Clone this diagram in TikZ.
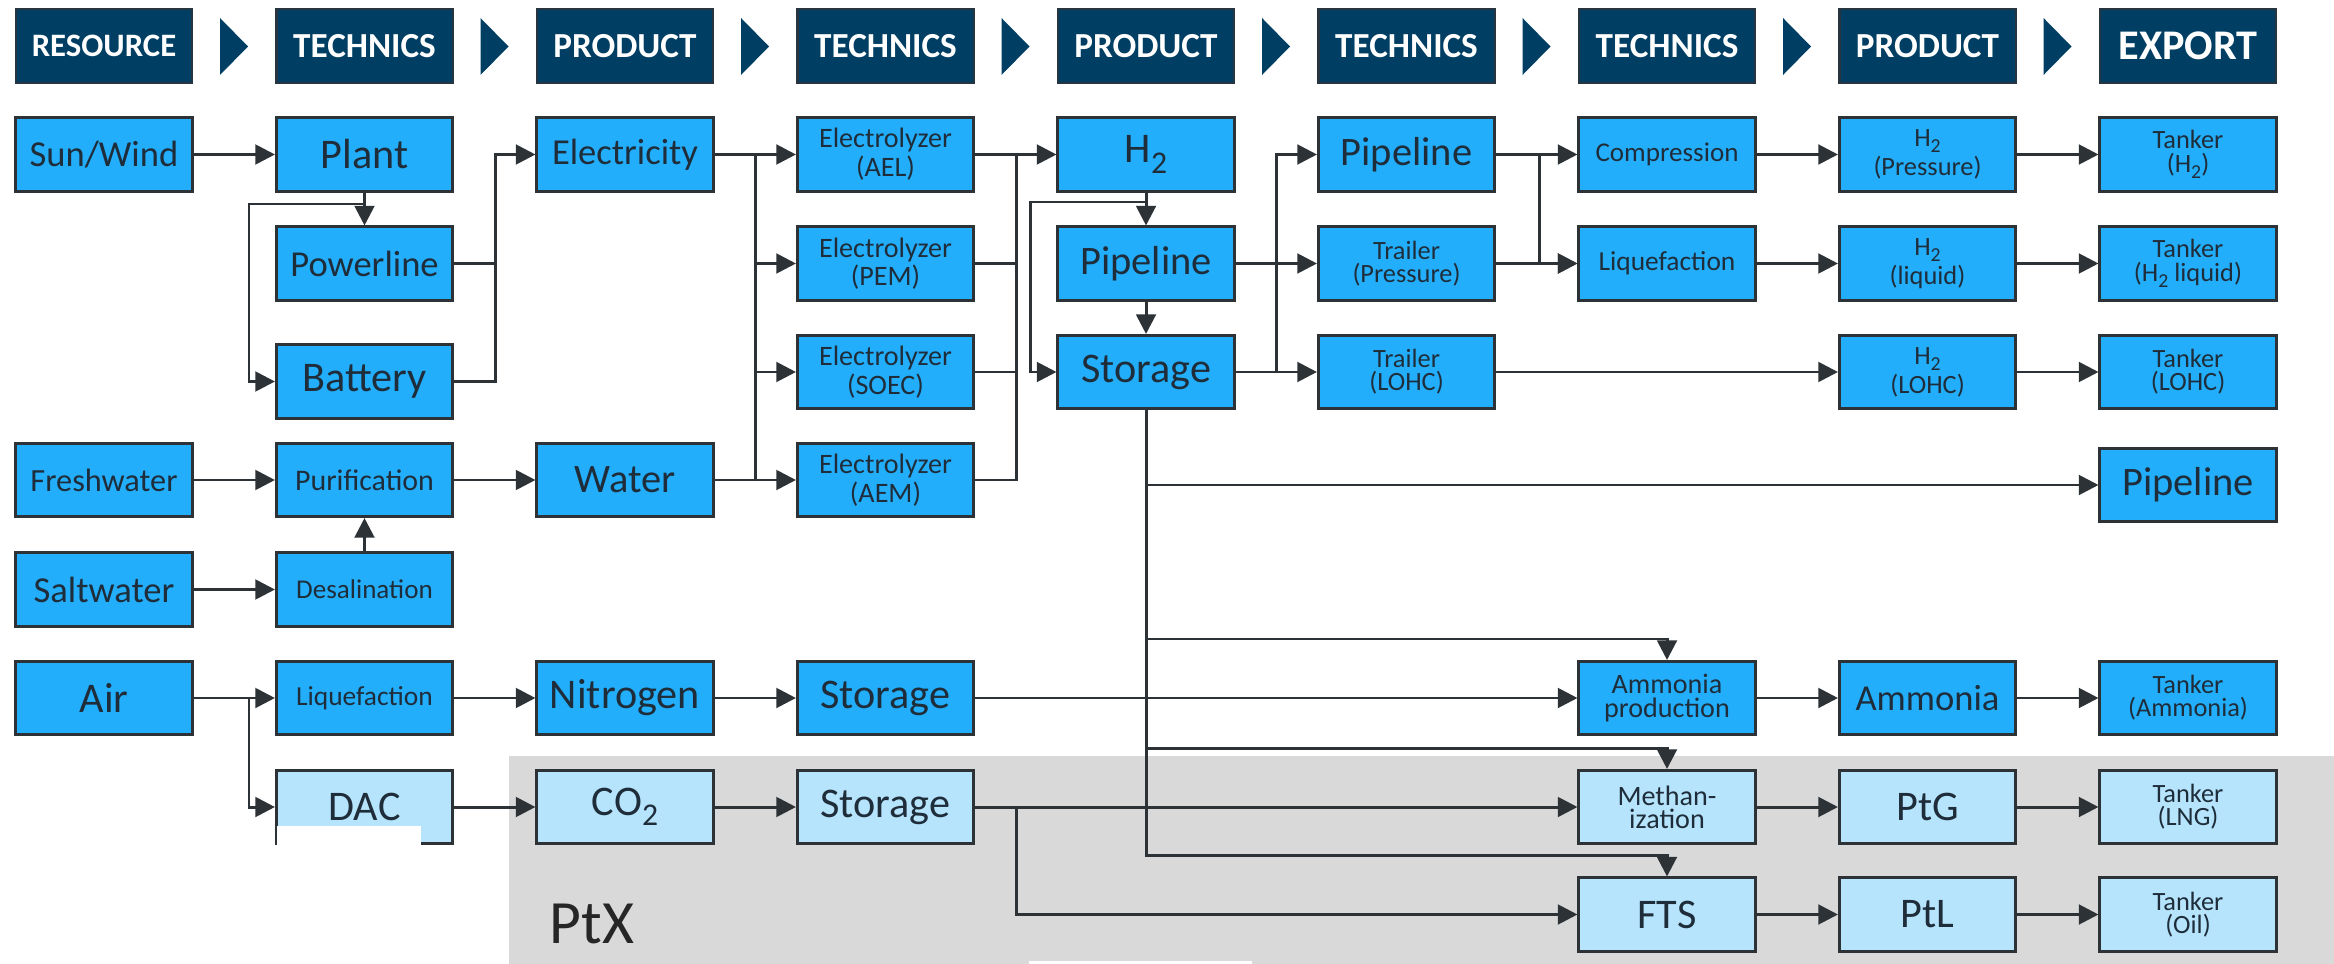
\documentclass[tikz,border=0pt]{standalone}
\usepackage{fontspec}
\setmainfont{Carlito}
\usepackage{graphicx}
\usetikzlibrary{arrows.meta}
\definecolor{navy}{HTML}{003F63}
\definecolor{hdrbord}{HTML}{263540}
\definecolor{mblue}{HTML}{22AEFB}
\definecolor{lblue}{HTML}{B5E4FC}
\definecolor{bordc}{HTML}{2D3236}
\definecolor{txtc}{HTML}{1F2D3A}
\definecolor{linec}{HTML}{2D3236}
\definecolor{ptxgray}{HTML}{D9D9D9}
\newcommand{\lowsub}[1]{\raisebox{-0.5ex}{\scalebox{0.75}{#1}}}
\tikzset{
  box/.style={draw=bordc, line width=0.85pt, fill=mblue, text=txtc, minimum width=1.76cm, minimum height=0.73cm, inner sep=0pt, align=center},
  lbox/.style={box, fill=lblue},
  hdr/.style={draw=hdrbord, line width=0.6pt, fill=navy, text=white, minimum width=1.76cm, minimum height=0.74cm, inner sep=0pt, font=\bfseries\fontsize{10}{10}\selectfont},
  fbig/.style={font=\fontsize{12}{12}\selectfont},
  fbg/.style={font=\fontsize{11.5}{11.5}\selectfont},
  fmid/.style={font=\fontsize{10.4}{10.4}\selectfont},
  fmd/.style={font=\fontsize{9.2}{9.2}\selectfont},
  fsm/.style={font=\fontsize{8}{6.6}\selectfont},
  fxs/.style={font=\fontsize{7.5}{6.6}\selectfont},
  ln/.style={draw=linec, line width=0.85pt},
  arr/.style={ln, -{Triangle[length=5.6pt,width=5.6pt]}},
}
\begin{document}
\begin{tikzpicture}[x=0.01cm, y=-0.01cm]
\useasboundingbox (0,0) rectangle (2334,964);
\fill[white] (0,0) rectangle (2334,964);
% PtX region
\fill[ptxgray] (509,756) rectangle (2334,964);
\node[anchor=base west, text=black!85, font=\fontsize{17.5}{17.5}\selectfont, inner sep=0pt] (ptx) at (549,943) {PtX};
% headers
\node[hdr, font=\bfseries\fontsize{9.3}{9.3}\selectfont] (h0) at (104,46) {RESOURCE};
\node[hdr] (h1) at (364.5,46) {TECHNICS};
\node[hdr] (h2h) at (625,46) {PRODUCT};
\node[hdr] (h3) at (885.5,46) {TECHNICS};
\node[hdr] (h4) at (1146,46) {PRODUCT};
\node[hdr] (h5) at (1406.5,46) {TECHNICS};
\node[hdr] (h6) at (1667,46) {TECHNICS};
\node[hdr] (h7) at (1927.5,46) {PRODUCT};
\node[hdr, font=\bfseries\fontsize{12}{12}\selectfont] (h8) at (2188,46) {EXPORT};
\foreach \k in {0,...,7} {
  \fill[navy] ({220+260.5*\k},18) -- ({248+260.5*\k},46.5) -- ({220+260.5*\k},75) -- cycle;
}
% column 0
\node[box, fmid] (sun) at (104,154.5) {Sun/Wind};
\node[box, fmd] (fresh) at (104,480) {Freshwater};
\node[box, fmid] (salt) at (104,589.5) {Saltwater};
\node[box, fbig] (air) at (104,698) {Air};
% column 1
\node[box, fbig] (plant) at (364.5,154.5) {Plant};
\node[box, fmid] (power) at (364.5,263.5) {Powerline};
\node[box, fbig] (batt) at (364.5,381.5) {Battery};
\node[box, font=\fontsize{8.5}{8.5}\selectfont] (purif) at (364.5,480) {Purification};
\node[box, font=\fontsize{7.7}{7.7}\selectfont] (desal) at (364.5,589.5) {Desalination};
\node[box, font=\fontsize{7.8}{7.8}\selectfont] (liqa) at (364.5,698) {Liquefaction};
\node[lbox, fbig] (dac) at (364.5,807) {DAC};
% column 2
\node[box, fmid] (elec) at (625,154.5) {Electricity};
\node[box, fbg] (water) at (625,480) {Water};
\node[box, fbig] (nitro) at (625,698) {Nitrogen};
\node[lbox, fbig] (co2) at (625,807) {CO\lowsub{2}};
% column 3
\node[box, fsm] (ael) at (885.5,154.5) {Electrolyzer\\(AEL)};
\node[box, fsm] (pem) at (885.5,263.5) {Electrolyzer\\(PEM)};
\node[box, fsm] (soec) at (885.5,372) {Electrolyzer\\(SOEC)};
\node[box, fsm] (aem) at (885.5,480) {Electrolyzer\\(AEM)};
\node[box, fbig] (storn) at (885.5,698) {Storage};
\node[lbox, fbig] (storc) at (885.5,807) {Storage};
% column 4
\node[box, fbig] (hyd) at (1146,154.5) {H\lowsub{2}};
\node[box, fbg] (pipea) at (1146,263.5) {Pipeline};
\node[box, fbig] (storh) at (1146,372) {Storage};
% column 5
\node[box, fbg] (pipeb) at (1406.5,154.5) {Pipeline};
\node[box, fxs] (trailp) at (1406.5,263.5) {Trailer\\(Pressure)};
\node[box, fxs] (traill) at (1406.5,372) {Trailer\\(LOHC)};
% column 6
\node[box, font=\fontsize{7.7}{7.7}\selectfont] (compr) at (1667,154.5) {Compression};
\node[box, font=\fontsize{7.8}{7.8}\selectfont] (liqb) at (1667,263.5) {Liquefaction};
\node[box, fsm] (ammp) at (1667,698) {Ammonia\\production};
\node[lbox, fsm] (meth) at (1667,807) {Methan-\\ization};
\node[lbox, fbig] (fts) at (1667,914.5) {FTS};
% column 7
\node[box, fxs] (hp) at (1927.5,154.5) {H\lowsub{2}\\(Pressure)};
\node[box, fxs] (hl) at (1927.5,263.5) {H\lowsub{2}\\(liquid)};
\node[box, fxs] (hlohc) at (1927.5,372) {H\lowsub{2}\\(LOHC)};
\node[box, fmid] (ammon) at (1927.5,698) {Ammonia};
\node[lbox, fbig] (ptg) at (1927.5,807) {PtG};
\node[lbox, fbig] (ptl) at (1927.5,914.5) {PtL};
% column 8
\node[box, fxs] (tkh) at (2188,154.5) {Tanker\\(H\lowsub{2})};
\node[box, fxs] (tkhl) at (2188,263.5) {Tanker\\(H\lowsub{2} liquid)};
\node[box, fxs] (tklohc) at (2188,372) {Tanker\\(LOHC)};
\node[box, fbg] (pipex) at (2188,485) {Pipeline};
\node[box, fxs] (tkamm) at (2188,698) {Tanker\\(Ammonia)};
\node[lbox, fxs] (tklng) at (2188,807) {Tanker\\(LNG)};
\node[lbox, fxs] (tkoil) at (2188,914.5) {Tanker\\(Oil)};
% junction coordinates
\coordinate (pj) at (364.5,204);
\coordinate (bj) at (249,204);
\coordinate (ej) at (495,263.5);
\coordinate (eb) at (755,154.5);
\coordinate (ebw) at (755,480);
\coordinate (hb) at (1016,154.5);
\coordinate (hj) at (1146,202);
\coordinate (hk) at (1030,202);
\coordinate (sb) at (1276,372);
\coordinate (cb) at (1539,154.5);
\coordinate (sx) at (1146,485);
\coordinate (sa) at (1146,639);
\coordinate (sm) at (1146,748);
\coordinate (sv) at (1146,855);
\coordinate (aj) at (249,698);
\coordinate (cj) at (1016,807);
% connectors
\draw[arr] (sun) -- (plant);
\draw[arr] (plant) -- (power);
\draw[arr] (pj) -- (bj) |- (batt.west);
\draw[arr] (power.east) -- (ej) |- (elec.west);
\draw[ln] (batt.east) -| (ej);
\draw[arr] (elec) -- (ael);
\draw[ln] (eb) -- (ebw);
\draw[arr] (eb) |- (pem.west);
\draw[arr] (eb) |- (soec.west);
\draw[arr] (water) -- (aem);
\draw[arr] (ael) -- (hyd);
\draw[ln] (pem.east) -| (hb);
\draw[ln] (soec.east) -| (hb);
\draw[ln] (aem.east) -| (hb);
\draw[arr] (hyd) -- (pipea);
\draw[arr] (hj) -- (hk) |- (storh.west);
\draw[arr] (pipea) -- (storh);
\draw[arr] (pipea) -- (trailp);
\draw[arr] (storh) -- (traill);
\draw[arr] (sb) |- (pipeb.west);
\draw[arr] (pipeb) -- (compr);
\draw[arr] (cb) |- (liqb.west);
\draw[arr] (trailp) -- (liqb);
\draw[arr] (compr) -- (hp);
\draw[arr] (hp) -- (tkh);
\draw[arr] (liqb) -- (hl);
\draw[arr] (hl) -- (tkhl);
\draw[arr] (traill) -- (hlohc);
\draw[arr] (hlohc) -- (tklohc);
\draw[arr] (storh.south) -- (sv) -| (fts.north);
\draw[arr] (sx) -- (pipex.west);
\draw[arr] (sa) -| (ammp.north);
\draw[arr] (sm) -| (meth.north);
\draw[arr] (fresh) -- (purif);
\draw[arr] (purif) -- (water);
\draw[arr] (salt) -- (desal);
\draw[arr] (desal) -- (purif);
\draw[arr] (air) -- (liqa);
\draw[arr] (aj) |- (dac.west);
\draw[arr] (liqa) -- (nitro);
\draw[arr] (nitro) -- (storn);
\draw[arr] (storn) -- (ammp);
\draw[arr] (ammp) -- (ammon);
\draw[arr] (ammon) -- (tkamm);
\draw[arr] (dac) -- (co2);
\draw[arr] (co2) -- (storc);
\draw[arr] (storc) -- (meth);
\draw[arr] (cj) |- (fts.west);
\draw[arr] (meth) -- (ptg);
\draw[arr] (ptg) -- (tklng);
\draw[arr] (fts) -- (ptl);
\draw[arr] (ptl) -- (tkoil);
% white patches as in the reference
\fill[white] (277,826) rectangle (421,964);
\fill[white] (1029,961) rectangle (1252,964);
\end{tikzpicture}
\end{document}
